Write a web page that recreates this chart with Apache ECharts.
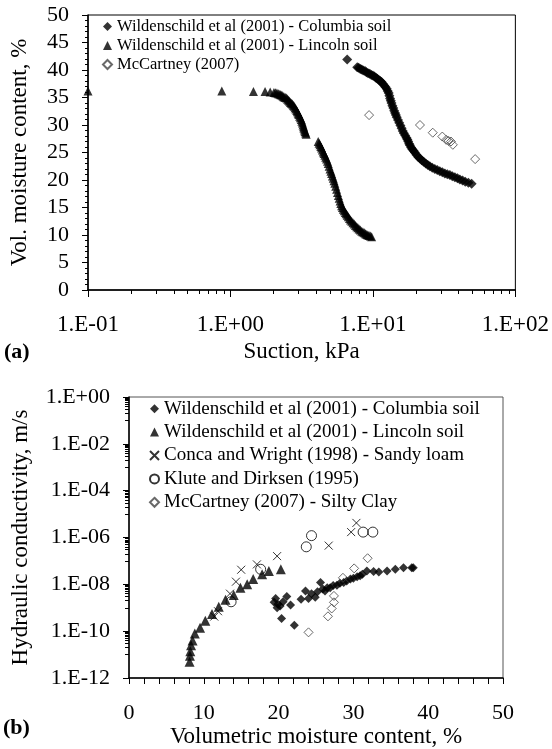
<!DOCTYPE html>
<html>
<head>
<meta charset="utf-8">
<script src="https://cdn.jsdelivr.net/npm/echarts@6/dist/echarts.min.js"></script>
<style>
  html, body { margin: 0; padding: 0; background: #fff; }
  #chart { width: 552px; height: 749px; }
</style>
</head>
<body>
<div id="chart"></div>
<script>
// (a) suction (kPa) vs vol. moisture content (%)
var columbiaSuction = [6.6, 7.76, 7.95, 8.15, 8.35, 8.55, 8.8, 9.0, 9.25, 9.5, 9.75, 10.0, 10.25, 10.5, 10.75, 11.0, 11.25, 11.5, 11.75, 12.0, 12.25, 12.5, 12.7, 12.9, 13.05, 13.2, 13.35, 13.5, 13.7, 13.9, 14.1, 14.3, 14.5, 14.7, 15.0, 15.3, 15.6, 15.9, 16.2, 16.5, 16.85, 17.2, 17.45, 17.7, 17.95, 18.2, 18.55, 18.9, 19.3, 19.7, 20.2, 20.8, 21.4, 22.0, 22.7, 23.5, 24.3, 25.1, 26.1, 27.2, 28.3, 29.5, 30.7, 32.0, 33.3, 34.7, 36.1, 37.6, 39.2, 40.8, 42.6, 44.5, 46.8, 49.3];
var columbiaTheta   = [41.9, 40.5, 40.4, 40.2, 40.1, 39.9, 39.8, 39.6, 39.4, 39.3, 39.1, 39.0, 38.8, 38.6, 38.4, 38.2, 38.0, 37.8, 37.5, 37.2, 36.9, 36.6, 36.2, 35.8, 35.3, 34.8, 34.4, 34.0, 33.5, 33.1, 32.6, 32.2, 31.8, 31.4, 30.9, 30.4, 29.9, 29.4, 28.9, 28.5, 28.1, 27.7, 27.35, 27.0, 26.6, 26.3, 25.9, 25.6, 25.3, 25.0, 24.6, 24.2, 23.9, 23.6, 23.3, 23.0, 22.75, 22.5, 22.25, 22.0, 21.8, 21.6, 21.4, 21.2, 21.05, 20.9, 20.7, 20.5, 20.3, 20.1, 19.9, 19.7, 19.5, 19.3];

var lincolnSuction = [0.10, 0.87, 1.45, 1.75, 1.90, 2.02, 2.07, 2.12, 2.17, 2.22, 2.26, 2.30, 2.34, 2.38, 2.43, 2.48, 2.52, 2.56, 2.60, 2.64, 2.68, 2.72, 2.76, 2.80, 2.84, 2.88, 2.92, 2.95, 2.99, 3.02, 3.06, 3.10, 3.14, 3.17, 3.20, 3.23, 3.26, 3.28, 3.31, 3.34, 3.37, 3.40,
    4.13, 4.19, 4.25, 4.31, 4.36, 4.42, 4.48, 4.54, 4.60, 4.66, 4.73, 4.80, 4.86, 4.93, 5.00, 5.07, 5.13, 5.20, 5.27, 5.33, 5.40, 5.48, 5.56, 5.64, 5.72, 5.80, 5.88, 5.95, 6.03, 6.11, 6.20, 6.30, 6.40, 6.50, 6.60, 6.72, 6.85, 6.97, 7.10, 7.25, 7.40, 7.55, 7.70, 7.85, 8.00, 8.17, 8.35, 8.52, 8.70, 8.87, 9.05, 9.22, 9.40, 9.60, 9.80];
var lincolnTheta   = [36.2, 36.2, 36.1, 36.1, 36.0, 35.9, 35.85, 35.8, 35.7, 35.6, 35.5, 35.4, 35.25, 35.1, 35.0, 34.9, 34.7, 34.5, 34.3, 34.1, 33.95, 33.8, 33.6, 33.4, 33.15, 32.9, 32.65, 32.4, 32.15, 31.9, 31.6, 31.3, 31.0, 30.7, 30.35, 30.0, 29.7, 29.4, 29.1, 28.8, 28.55, 28.3,
    27.0, 26.7, 26.4, 26.1, 25.8, 25.45, 25.1, 24.8, 24.5, 24.15, 23.8, 23.4, 23.0, 22.5, 22.0, 21.6, 21.2, 20.75, 20.3, 19.85, 19.4, 18.85, 18.3, 17.75, 17.2, 16.7, 16.2, 15.75, 15.3, 15.0, 14.7, 14.4, 14.1, 13.85, 13.6, 13.3, 13.0, 12.75, 12.5, 12.25, 12.0, 11.75, 11.5, 11.3, 11.1, 10.9, 10.7, 10.55, 10.4, 10.25, 10.1, 10.0, 9.9, 9.8, 9.7];

var mccartneySuction = [9.4, 21.4, 26.3, 30.7, 32.7, 34.0, 35.3, 36.4, 52.2];
var mccartneyTheta   = [31.8, 30.0, 28.6, 27.9, 27.3, 27.1, 27.0, 26.4, 23.8];

// (b) vol. moisture content (%) vs hydraulic conductivity (m/s)
var columbiaMC = [19.4, 19.6, 19.8, 19.9, 20.2, 20.4, 20.6, 21.1, 21.6, 22.1, 23.0, 23.6, 24.0, 24.4, 24.9, 25.2, 25.6, 25.9, 26.2, 26.5, 26.9, 27.3, 27.8, 28.2, 28.7, 29.1, 29.6, 30.0, 30.5, 30.9, 31.2, 31.8, 32.7, 33.4, 34.5, 35.6, 36.7, 37.8, 38.0];
var columbiaK  = [1.7e-9, 2.5e-9, 1.0e-9, 1.4e-9, 1.2e-9, 3.5e-10, 1.8e-9, 3.0e-9, 1.3e-9, 1.8e-10, 2.3e-9, 5.2e-9, 2.5e-9, 4.0e-9, 2.8e-9, 4.8e-9, 1.2e-8, 6.3e-9, 5.2e-9, 7.1e-9, 7.2e-9, 8.9e-9, 9.1e-9, 1.1e-8, 1.2e-8, 1.4e-8, 1.7e-8, 1.8e-8, 2.1e-8, 2.3e-8, 2.7e-8, 3.7e-8, 3.5e-8, 3.4e-8, 3.7e-8, 4.4e-8, 5.1e-8, 5.1e-8, 5.1e-8];

var lincolnMC = [8.1, 8.15, 8.2, 8.3, 8.5, 8.8, 9.5, 10.2, 11.1, 12.0, 12.9, 14.0, 14.9, 15.8, 16.6, 17.8, 18.7, 20.3];
var lincolnK  = [5.0e-12, 8.9e-12, 1.4e-11, 2.5e-11, 4.0e-11, 7.9e-11, 1.4e-10, 2.8e-10, 5.4e-10, 1.1e-9, 2.2e-9, 3.5e-9, 7.1e-9, 1.0e-8, 1.7e-8, 2.7e-8, 3.7e-8, 4.4e-8];

var concaMC = [11.4, 11.9, 13.5, 14.3, 15.0, 17.1, 19.8, 26.7, 29.7, 30.4];
var concaK  = [4.2e-10, 7.1e-10, 4.0e-9, 1.3e-8, 4.2e-8, 7.1e-8, 1.6e-7, 4.5e-7, 1.7e-6, 4.2e-6];

var kluteMC = [13.65, 17.6, 23.7, 24.4, 31.3, 32.6];
var kluteK  = [1.8e-9, 4.4e-8, 4.0e-7, 1.2e-6, 1.7e-6, 1.7e-6];

var mccartneyMC = [24.0, 26.6, 27.1, 27.4, 27.4, 28.6, 30.1, 31.9];
var mccartneyK  = [8.9e-11, 4.3e-10, 9.3e-10, 1.7e-9, 3.2e-9, 1.9e-8, 4.8e-8, 1.3e-7];

var COL = 'Wildenschild et al (2001) - Columbia soil';
var LIN = 'Wildenschild et al (2001) - Lincoln soil';
var MCC_A = 'McCartney (2007)';
var CON = 'Conca and Wright (1998) - Sandy loam';
var KLU = 'Klute and Dirksen (1995)';
var MCC_B = 'McCartney (2007) - Silty Clay';

var SERIF = 'Liberation Serif';

function zip(xs, ys, logX, logY) {
    var out = [];
    for (var i = 0; i < xs.length; i++) {
        out.push([logX ? Math.log10(xs[i]) : xs[i], logY ? Math.log10(ys[i]) : ys[i]]);
    }
    return out;
}
function expLabel(v) {
    var n = Math.round(v);
    var a = Math.abs(n);
    return '1.E' + (n < 0 ? '-' : '+') + (a < 10 ? '0' : '') + a;
}

// log-style minor ticks (values live in log10 space)
var suctionMinor = [];
for (var d = -1; d < 2; d++) {
    for (var m = 2; m <= 9; m++) suctionMinor.push(d + Math.log10(m));
}
var condMinor = [];
for (var e = -11; e < 0; e += 2) {
    for (var m2 = 1; m2 <= 9; m2++) condMinor.push(e + Math.log10(m2));
}

var black = {color: '#000'};
var axisTxt = {color: '#000', fontFamily: SERIF};
var nameTxt = {color: '#000', fontFamily: SERIF, fontSize: 23};

var myChart = echarts.init(document.getElementById('chart'));
myChart.setOption({
    animation: false,
    backgroundColor: '#fff',
    textStyle: {fontFamily: SERIF},
    grid: [
        {left: 88, top: 15, width: 428, height: 275, show: true, borderColor: '#000', borderWidth: 1, backgroundColor: 'transparent'},
        {left: 129, top: 397, width: 374, height: 282, show: true, borderColor: '#555', borderWidth: 1, backgroundColor: 'transparent'}
    ],
    legend: [
        {
            orient: 'vertical', left: 102, top: 17, padding: 0, itemGap: 0,
            itemWidth: 9, itemHeight: 9, selectedMode: false,
            textStyle: {fontFamily: SERIF, fontSize: 16.5, color: '#000', lineHeight: 19},
            data: [COL, LIN, MCC_A]
        },
        {
            orient: 'vertical', left: 149, top: 397, padding: 0, itemGap: 0,
            itemWidth: 9, itemHeight: 9, selectedMode: false,
            textStyle: {fontFamily: SERIF, fontSize: 19, color: '#000', lineHeight: 23.4},
            data: [COL, LIN, CON, KLU, MCC_B]
        }
    ],
    graphic: [
        {type: 'text', left: 4, top: 341, style: {text: '(a)', font: 'bold 22px Liberation Serif', fill: '#000'}},
        {type: 'text', left: 3, top: 717, style: {text: '(b)', font: 'bold 22px Liberation Serif', fill: '#000'}}
    ],
    xAxis: [
        {
            gridIndex: 0, type: 'value', min: -1, max: 2, interval: 1,
            name: 'Suction, kPa', nameLocation: 'middle', nameGap: 50, nameTextStyle: nameTxt,
            axisLine: {onZero: false, lineStyle: {color: '#000', width: 1.5}},
            axisTick: {length: 7, lineStyle: black},
            axisLabel: Object.assign({formatter: expLabel, margin: 23, fontSize: 23}, axisTxt),
            splitLine: {show: false}
        },
        {
            // minor log ticks drawn along the bottom edge
            gridIndex: 0, type: 'value', min: -1, max: 2, position: 'top', offset: -275,
            axisLine: {show: false, onZero: false}, axisLabel: {show: false}, splitLine: {show: false},
            axisTick: {inside: true, length: 4, customValues: suctionMinor, lineStyle: black}
        },
        {
            gridIndex: 1, type: 'value', min: 0, max: 50, interval: 10,
            name: 'Volumetric moisture content, %', nameLocation: 'middle', nameGap: 47, nameTextStyle: nameTxt,
            axisLine: {onZero: false, lineStyle: {color: '#000', width: 1.5}},
            axisTick: {length: 6, lineStyle: black},
            minorTick: {show: true, splitNumber: 5, length: 6, lineStyle: black},
            axisLabel: Object.assign({margin: 24, fontSize: 22}, axisTxt),
            splitLine: {show: false}
        }
    ],
    yAxis: [
        {
            gridIndex: 0, type: 'value', min: 0, max: 50, interval: 5,
            name: 'Vol. moisture content, %', nameLocation: 'middle', nameGap: 57, nameTextStyle: nameTxt,
            axisLine: {onZero: false, lineStyle: {color: '#000', width: 1.5}},
            axisTick: {length: 6, lineStyle: black},
            minorTick: {show: true, splitNumber: 5, length: 3, lineStyle: black},
            axisLabel: Object.assign({margin: 19, fontSize: 22}, axisTxt),
            splitLine: {show: false}
        },
        {
            gridIndex: 1, type: 'value', min: -12, max: 0, interval: 2,
            name: 'Hydraulic conductivity, m/s', nameLocation: 'middle', nameGap: 97, nameTextStyle: nameTxt,
            axisLine: {onZero: false, lineStyle: {color: '#000', width: 1.5}},
            axisTick: {length: 6, lineStyle: black},
            axisLabel: Object.assign({formatter: expLabel, margin: 19, fontSize: 22}, axisTxt),
            splitLine: {show: false}
        },
        {
            // minor log ticks drawn along the left edge
            gridIndex: 1, type: 'value', min: -12, max: 0, position: 'right', offset: -374,
            axisLine: {show: false, onZero: false}, axisLabel: {show: false}, splitLine: {show: false},
            axisTick: {inside: true, length: 4, customValues: condMinor, lineStyle: black}
        }
    ],
    series: [
        {type: 'scatter', name: LIN, xAxisIndex: 0, yAxisIndex: 0, symbol: 'triangle', symbolSize: 9,
            itemStyle: {color: '#000'}, data: zip(lincolnSuction, lincolnTheta, true, false)},
        {type: 'scatter', name: COL, xAxisIndex: 0, yAxisIndex: 0, symbol: 'diamond', symbolSize: 10,
            itemStyle: {color: '#000'}, data: zip(columbiaSuction, columbiaTheta, true, false)},
        {type: 'scatter', name: MCC_A, xAxisIndex: 0, yAxisIndex: 0, symbol: 'diamond', symbolSize: 9,
            itemStyle: {color: 'rgba(0,0,0,0)', borderColor: '#444', borderWidth: 1}, data: zip(mccartneySuction, mccartneyTheta, true, false)},

        {type: 'scatter', name: COL, xAxisIndex: 2, yAxisIndex: 1, symbol: 'diamond', symbolSize: 9,
            itemStyle: {color: '#000'}, data: zip(columbiaMC, columbiaK, false, true)},
        {type: 'scatter', name: LIN, xAxisIndex: 2, yAxisIndex: 1, symbol: 'triangle', symbolSize: 10,
            itemStyle: {color: '#000'}, data: zip(lincolnMC, lincolnK, false, true)},
        {type: 'scatter', name: CON, xAxisIndex: 2, yAxisIndex: 1, symbol: 'path://M0,0L10,10M10,0L0,10', symbolSize: 8,
            itemStyle: {color: 'rgba(0,0,0,0)', borderColor: '#000', borderWidth: 1}, data: zip(concaMC, concaK, false, true)},
        {type: 'scatter', name: KLU, xAxisIndex: 2, yAxisIndex: 1, symbol: 'circle', symbolSize: 10,
            itemStyle: {color: 'rgba(0,0,0,0)', borderColor: '#000', borderWidth: 1}, data: zip(kluteMC, kluteK, false, true)},
        {type: 'scatter', name: MCC_B, xAxisIndex: 2, yAxisIndex: 1, symbol: 'diamond', symbolSize: 9,
            itemStyle: {color: 'rgba(0,0,0,0)', borderColor: '#444', borderWidth: 1}, data: zip(mccartneyMC, mccartneyK, false, true)}
    ]
});
window.onresize = function () {
    myChart.resize();
};
</script>
</body>
</html>
